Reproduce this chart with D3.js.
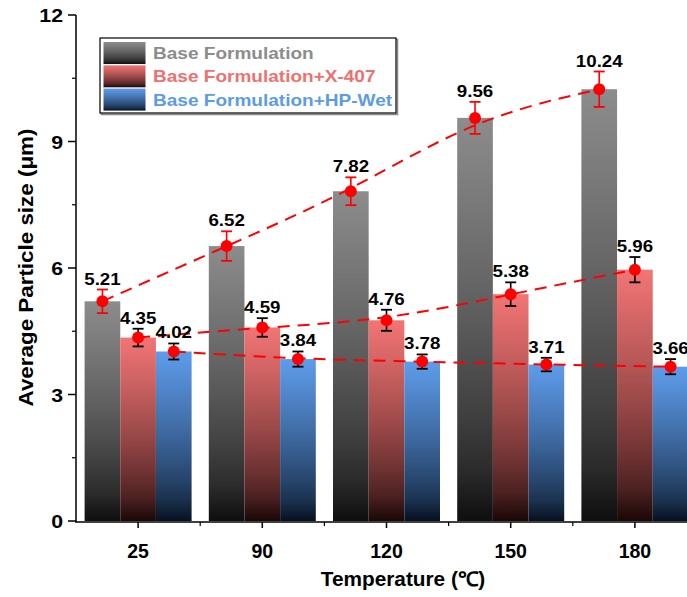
<!DOCTYPE html>
<html>
<head>
<meta charset="utf-8">
<script src="https://cdn.jsdelivr.net/npm/d3@7"></script>
<style>
  html, body { margin: 0; padding: 0; background: #fff; }
  svg { display: block; font-family: "Liberation Sans", Arial, Helvetica, sans-serif; }
</style>
</head>
<body>
<svg id="chart" width="687" height="597"></svg>
<script>
// Temperatures (°C) and the three formulations
const temperatures = ["25", "90", "120", "150", "180"];
const seriesNames = ["Base Formulation", "Base Formulation+X-407", "Base Formulation+HP-Wet"];

// Average particle size (µm) and standard deviations
const baseValues = [5.21, 6.52, 7.82, 9.56, 10.24];
const x407Values = [4.35, 4.59, 4.76, 5.38, 5.96];
const hpWetValues = [4.02, 3.84, 3.78, 3.71, 3.66];
const baseErrors = [0.28, 0.35, 0.33, 0.38, 0.42];
const x407Errors = [0.21, 0.22, 0.25, 0.28, 0.30];
const hpWetErrors = [0.19, 0.18, 0.17, 0.16, 0.18];

const yTicks = [0, 3, 6, 9, 12];
const yMinorTicks = [1.5, 4.5, 7.5, 10.5];

const series = [
  { name: seriesNames[0], values: baseValues, errors: baseErrors, top: "#8c8c8c", bottom: "#0e0e0e", text: "#8c8c8c", errColor: "#ff0000" },
  { name: seriesNames[1], values: x407Values, errors: x407Errors, top: "#f27575", bottom: "#1a0707", text: "#f07070", errColor: "#000000" },
  { name: seriesNames[2], values: hpWetValues, errors: hpWetErrors, top: "#5e9cea", bottom: "#06101f", text: "#5b9be8", errColor: "#000000" }
];

const svg = d3.select("#chart");
const axisX = 76, axisY = 522, topY = 15;
const bandWidth = 124.2;

const x = d3.scaleBand().domain(temperatures)
  .range([axisX, axisX + bandWidth * temperatures.length]).paddingInner(0).paddingOuter(0);
const groupWidth = 107;
const xSub = d3.scaleBand().domain(d3.range(series.length))
  .range([(bandWidth - groupWidth) / 2, (bandWidth + groupWidth) / 2]);
const y = d3.scaleLinear().domain([0, 12]).range([521, topY]);

// Bold text, slightly widened horizontally
function label(parent, px, py, str, size, sx, anchor, fill) {
  return parent.append("text")
    .attr("transform", `translate(${px},${py}) scale(${sx},1)`)
    .attr("text-anchor", anchor).attr("font-size", size).attr("font-weight", "bold")
    .attr("fill", fill || "#000").text(str);
}

// Vertical gradients: each bar fades from its colour to near black
const defs = svg.append("defs");
series.forEach((s, i) => {
  const g = defs.append("linearGradient").attr("id", "grad" + i)
    .attr("x1", 0).attr("y1", 0).attr("x2", 0).attr("y2", 1);
  const mix = d3.interpolateRgb(s.bottom, s.top);
  d3.range(0, 1.0001, 0.125).forEach(t => {
    g.append("stop").attr("offset", t).attr("stop-color", mix(Math.pow(1 - t, 0.7)));
  });
});

// Bars
series.forEach((s, i) => {
  svg.append("g").selectAll("rect").data(s.values).join("rect")
    .attr("x", (d, j) => x(temperatures[j]) + xSub(i))
    .attr("y", d => y(d))
    .attr("width", xSub.bandwidth())
    .attr("height", d => y(0) - y(d))
    .attr("fill", "url(#grad" + i + ")");
});

const cx = (i, j) => x(temperatures[j]) + xSub(i) + xSub.bandwidth() / 2;

// Dashed B-spline trend curves through the means
series.forEach((s, i) => {
  const line = d3.line().x((d, j) => cx(i, j)).y(d => y(d)).curve(d3.curveBasis);
  svg.append("path").datum(s.values).attr("d", line)
    .attr("fill", "none").attr("stroke", "#ff0000").attr("stroke-width", 2)
    .attr("stroke-dasharray", "12,8");
});

// Error bars, markers and value labels
series.forEach((s, i) => {
  const g = svg.append("g");
  s.values.forEach((v, j) => {
    const px = cx(i, j);
    const yt = y(v + s.errors[j]), yb = y(v - s.errors[j]);
    g.append("line").attr("x1", px).attr("x2", px).attr("y1", yt).attr("y2", yb)
      .attr("stroke", s.errColor).attr("stroke-width", 1.6);
    [yt, yb].forEach(yy => g.append("line").attr("x1", px - 5.5).attr("x2", px + 5.5)
      .attr("y1", yy).attr("y2", yy).attr("stroke", s.errColor).attr("stroke-width", 1.8));
    g.append("circle").attr("cx", px).attr("cy", y(v)).attr("r", 6).attr("fill", "#ff0000");
    label(g, px, yt - 5, v.toFixed(2), 17, 1.1, "middle");
  });
});

// Y axis
const yAxis = svg.append("g");
yAxis.append("line").attr("x1", axisX).attr("x2", axisX).attr("y1", topY).attr("y2", axisY)
  .attr("stroke", "#000").attr("stroke-width", 1.5);
yTicks.forEach(t => {
  yAxis.append("line").attr("x1", axisX - 8).attr("x2", axisX).attr("y1", y(t)).attr("y2", y(t))
    .attr("stroke", "#000").attr("stroke-width", 1.5);
  label(yAxis, 63, y(t) + 7, t, 19, 1.12, "end");
});
yMinorTicks.forEach(t => {
  yAxis.append("line").attr("x1", axisX - 4).attr("x2", axisX).attr("y1", y(t)).attr("y2", y(t))
    .attr("stroke", "#000").attr("stroke-width", 1.2);
});

// X axis
const xAxis = svg.append("g");
xAxis.append("line").attr("x1", axisX - 1).attr("x2", 700).attr("y1", axisY).attr("y2", axisY)
  .attr("stroke", "#000").attr("stroke-width", 1.5);
temperatures.forEach(t => {
  const px = x(t) + x.bandwidth() / 2;
  xAxis.append("line").attr("x1", px).attr("x2", px).attr("y1", axisY).attr("y2", axisY + 6)
    .attr("stroke", "#000").attr("stroke-width", 1.5);
  label(xAxis, px, 558, t, 19.5, 1.0, "middle");
});
temperatures.slice(1).forEach(t => {
  xAxis.append("line").attr("x1", x(t)).attr("x2", x(t)).attr("y1", axisY).attr("y2", axisY + 4)
    .attr("stroke", "#000").attr("stroke-width", 1.2);
});

// Axis titles
label(svg, 403, 586, "Temperature (℃)", 20, 1.04, "middle");
svg.append("text").attr("transform", "translate(33,267.5) rotate(-90) scale(1.12,1)")
  .attr("text-anchor", "middle").attr("font-size", 20).attr("font-weight", "bold")
  .text("Average Particle size (μm)");

// Legend
const lg = svg.append("g");
const lx = 100, ly = 38, lw = 296, lh = 75;
lg.append("rect").attr("x", lx + 1.5).attr("y", ly + 1.5).attr("width", lw).attr("height", lh)
  .attr("fill", "none").attr("stroke", "#888").attr("stroke-width", 1.5);
lg.append("rect").attr("x", lx).attr("y", ly).attr("width", lw).attr("height", lh)
  .attr("fill", "#fff").attr("stroke", "#000").attr("stroke-width", 1.2);
series.forEach((s, i) => {
  const ry = ly + 4 + i * 23.3;
  lg.append("rect").attr("x", lx + 3.5).attr("y", ry).attr("width", 42).attr("height", 22)
    .attr("fill", "url(#grad" + i + ")");
  label(lg, lx + 53, ry + 17, s.name, 17, 1.12, "start", s.text);
});
</script>
</body>
</html>
